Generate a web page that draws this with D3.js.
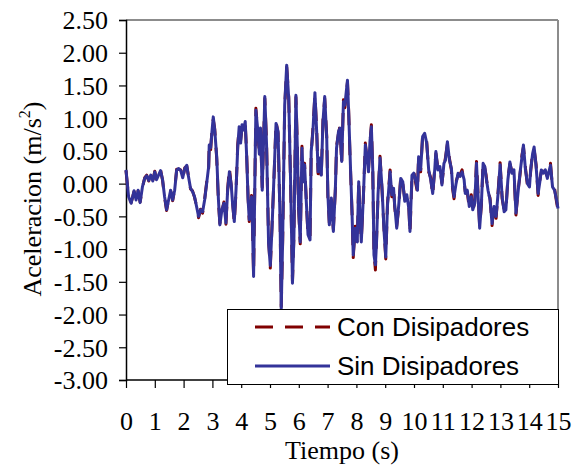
<!DOCTYPE html>
<html>
<head>
<meta charset="utf-8">
<script src="https://cdn.jsdelivr.net/npm/d3@7/dist/d3.min.js"></script>
<style>
  html, body { margin: 0; padding: 0; background: #ffffff; }
  svg { display: block; }
</style>
</head>
<body>
<svg id="chart" width="581" height="469"></svg>
<script>
// ---- data ----
const time = [
  0.00,0.09,0.18,0.28,0.35,0.42,0.49,0.57,0.65,0.72,
  0.79,0.86,0.93,1.00,1.06,1.13,1.20,1.27,1.34,1.41,
  1.48,1.55,1.62,1.69,1.76,1.83,1.90,1.97,2.04,2.11,
  2.15,2.24,2.31,2.38,2.45,2.52,2.59,2.66,2.73,2.80,
  2.87,2.89,2.94,2.99,3.03,3.08,3.15,3.21,3.26,3.33,
  3.40,3.47,3.53,3.59,3.65,3.70,3.76,3.82,3.88,3.93,
  3.98,4.03,4.08,4.14,4.19,4.24,4.28,4.36,4.39,4.43,
  4.47,4.51,4.58,4.63,4.67,4.73,4.82,4.88,4.95,5.01,
  5.07,5.14,5.21,5.28,5.35,5.39,5.44,5.51,5.58,5.65,
  5.72,5.78,5.83,5.90,5.95,5.99,6.05,6.11,6.16,6.20,
  6.26,6.32,6.39,6.43,6.49,6.56,6.62,6.67,6.72,6.78,
  6.84,6.90,6.97,7.01,7.06,7.13,7.20,7.27,7.31,7.38,
  7.43,7.49,7.55,7.60,7.69,7.73,7.78,7.85,7.89,7.96,
  8.03,8.08,8.12,8.17,8.24,8.31,8.36,8.42,8.47,8.52,
  8.57,8.61,8.66,8.70,8.75,8.82,8.89,8.96,9.02,9.08,
  9.17,9.23,9.29,9.33,9.40,9.47,9.54,9.61,9.68,9.75,
  9.82,9.86,9.93,9.99,10.05,10.12,10.16,10.23,10.30,10.37,
  10.44,10.51,10.58,10.65,10.72,10.76,10.83,10.90,10.97,11.04,
  11.09,11.16,11.23,11.30,11.34,11.39,11.46,11.53,11.60,11.67,
  11.74,11.78,11.85,11.92,11.99,12.04,12.11,12.17,12.22,12.28,
  12.34,12.40,12.46,12.50,12.57,12.64,12.71,12.78,12.85,12.92,
  12.99,13.06,13.13,13.19,13.26,13.33,13.40,13.47,13.54,13.61,
  13.68,13.75,13.80,13.87,13.94,14.01,14.05,14.12,14.17,14.24,
  14.31,14.38,14.42,14.49,14.56,14.63,14.70,14.74,14.81,14.88,
  14.95,15.00
];
const sinDisipadores = [
  0.21,-0.20,-0.30,-0.11,-0.25,-0.10,-0.29,-0.05,0.08,0.12,
  0.05,0.13,0.04,0.18,0.06,0.13,0.20,0.06,-0.20,-0.40,
  -0.25,-0.10,-0.25,-0.10,0.21,0.23,0.20,0.09,0.23,0.28,
  0.16,-0.07,-0.12,-0.20,-0.35,-0.50,-0.40,-0.43,-0.25,0.00,
  0.26,0.59,0.55,0.82,1.02,0.82,0.41,-0.25,-0.63,-0.40,
  -0.30,-0.60,-0.10,0.18,0.00,-0.30,-0.58,-0.10,0.56,0.87,
  0.62,0.90,0.82,0.95,0.41,-0.25,-0.55,-0.20,-0.60,-1.42,
  -0.10,1.12,0.80,0.45,0.85,-0.10,1.33,0.60,-0.90,-1.25,
  -0.68,0.13,0.92,0.80,-0.58,-1.91,-0.84,1.20,1.81,1.30,
  -0.07,-1.52,-0.84,1.35,0.54,-0.33,-0.89,0.54,0.03,0.29,
  -0.27,-0.78,-0.86,0.49,0.80,1.39,0.80,0.18,0.39,0.13,
  0.95,1.33,0.69,-0.17,-0.63,-0.22,-0.73,-0.07,0.54,0.80,
  0.85,0.34,1.25,1.20,1.58,1.10,0.44,-0.48,-1.09,-0.68,
  -0.89,0.03,-0.43,-0.89,-0.22,0.59,0.44,0.18,0.64,0.87,
  0.18,-1.09,-1.24,-0.89,-0.17,0.39,-0.07,-0.73,-1.12,-0.33,
  0.18,-0.17,-0.07,-0.33,-0.68,-0.33,0.08,0.03,-0.27,-0.17,
  -0.38,-0.73,0.13,0.16,0.06,-0.10,0.41,0.21,0.72,0.77,
  0.62,0.21,0.06,-0.15,0.21,0.49,0.21,0.26,-0.02,0.31,
  0.36,0.64,0.36,0.23,-0.05,-0.20,0.00,0.16,0.11,0.18,
  0.06,-0.15,-0.10,-0.35,-0.20,-0.40,-0.30,0.31,-0.15,-0.68,
  -0.30,0.31,0.26,0.11,-0.10,-0.25,-0.61,-0.35,-0.50,-0.15,
  0.29,-0.20,-0.43,-0.40,0.06,0.33,0.16,0.21,-0.45,-0.15,
  0.16,0.41,0.59,0.21,0.00,-0.05,0.21,0.46,0.56,0.26,
  -0.15,0.06,0.21,0.16,0.21,0.08,0.21,0.28,-0.05,-0.10,
  -0.25,-0.38
];
const conDisipadores = [
  0.20,-0.21,-0.29,-0.12,-0.24,-0.11,-0.28,-0.06,0.09,0.13,
  0.04,0.14,0.05,0.19,0.05,0.14,0.21,0.05,-0.21,-0.41,
  -0.24,-0.11,-0.26,-0.09,0.22,0.22,0.21,0.08,0.24,0.27,
  0.17,-0.08,-0.11,-0.21,-0.34,-0.52,-0.39,-0.45,-0.24,0.02,
  0.24,0.61,0.52,0.85,0.98,0.84,0.38,-0.28,-0.61,-0.42,
  -0.28,-0.62,-0.08,0.24,-0.02,-0.28,-0.60,-0.12,0.60,0.84,
  0.66,0.86,0.85,0.92,0.45,-0.22,-0.58,-0.18,-0.63,-1.39,
  -0.14,1.15,0.77,0.48,0.82,-0.06,1.30,0.64,-0.86,-1.29,
  -0.64,0.10,0.95,0.77,-0.55,-1.88,-0.88,1.17,1.78,1.33,
  -0.11,-1.49,-0.80,1.32,0.58,-0.36,-0.92,0.57,0.00,0.31,
  -0.24,-0.81,-0.83,0.46,0.84,1.36,0.84,0.15,0.42,0.10,
  0.98,1.30,0.72,-0.20,-0.60,-0.25,-0.70,-0.10,0.57,0.77,
  0.88,0.30,1.28,1.16,1.55,1.13,0.40,-0.45,-1.13,-0.65,
  -0.92,0.06,-0.46,-0.86,-0.25,0.62,0.41,0.21,0.61,0.90,
  0.15,-1.06,-1.32,-0.85,-0.20,0.42,-0.10,-0.70,-1.15,-0.30,
  0.21,-0.20,-0.04,-0.36,-0.65,-0.36,0.11,0.00,-0.24,-0.20,
  -0.35,-0.76,0.10,0.19,0.03,-0.13,0.44,0.18,0.75,0.74,
  0.65,0.18,0.09,-0.18,0.24,0.46,0.24,0.23,0.01,0.28,
  0.39,0.61,0.39,0.20,-0.08,-0.23,0.03,0.13,0.14,0.21,
  0.03,-0.12,-0.13,-0.38,-0.17,-0.43,-0.27,0.34,-0.12,-0.65,
  -0.33,0.34,0.23,0.14,-0.13,-0.22,-0.64,-0.32,-0.53,-0.12,
  0.32,-0.23,-0.40,-0.43,0.09,0.30,0.19,0.18,-0.48,-0.12,
  0.13,0.44,0.56,0.24,-0.03,-0.02,0.18,0.49,0.53,0.29,
  -0.18,0.09,0.18,0.19,0.18,0.11,0.18,0.31,-0.08,-0.07,
  -0.28,-0.40
];
const xTicks = [0,1,2,3,4,5,6,7,8,9,10,11,12,13,14,15];
const yTicks = [2.5,2.0,1.5,1.0,0.5,0.0,-0.5,-1.0,-1.5,-2.0,-2.5,-3.0];
const yTickLabels = ["2.50","2.00","1.50","1.00","0.50","0.00","-0.50","-1.00","-1.50","-2.00","-2.50","-3.00"];
const seriesNames = ["Con Disipadores","Sin Disipadores"];
const xTitle = "Tiempo (s)";

// ---- layout ----
const svg = d3.select("#chart");
const L = 126, R = 558, T = 20, B = 380;
const x = d3.scaleLinear().domain([0, 15]).range([L, R]);
const y = d3.scaleLinear().domain([-3, 2.5]).range([B, T]);
const serif = "'Liberation Serif','Times New Roman',serif";
const sans = "'Liberation Sans',Arial,sans-serif";

// plot frame (top/right grey)
svg.append("line").attr("x1", L).attr("x2", R).attr("y1", T).attr("y2", T)
  .attr("stroke", "#8c8c8c").attr("stroke-width", 2);
svg.append("line").attr("x1", R).attr("x2", R).attr("y1", T).attr("y2", B)
  .attr("stroke", "#8c8c8c").attr("stroke-width", 2);

// axes
const yAxis = d3.axisLeft(y).tickValues(yTicks).tickSize(7)
  .tickFormat((d, i) => yTickLabels[i]);
const gy = svg.append("g").attr("transform", `translate(${L},0)`).call(yAxis);
gy.select(".domain").attr("stroke", "#000").attr("stroke-width", 1.5);
gy.selectAll(".tick line").attr("stroke", "#000").attr("stroke-width", 1.2);
gy.selectAll(".tick text").attr("font-family", serif).attr("font-size", 26)
  .attr("fill", "#000").attr("x", -18).attr("dy", "0.34em");

const xAxis = d3.axisBottom(x).tickValues(xTicks).tickSize(8).tickFormat(d3.format("d"));
const gx = svg.append("g").attr("transform", `translate(0,${B})`).call(xAxis);
gx.select(".domain").attr("stroke", "#000").attr("stroke-width", 1.5);
gx.selectAll(".tick line").attr("stroke", "#000").attr("stroke-width", 1.2);
gx.selectAll(".tick text").attr("font-family", serif).attr("font-size", 26)
  .attr("fill", "#000").attr("y", 49.5).attr("dy", null);
gx.selectAll(".domain").attr("d", `M${L},0H${R}`);

// titles
svg.append("text").attr("x", (L + R) / 2).attr("y", 459).attr("text-anchor", "middle")
  .attr("font-family", serif).attr("font-size", 26).attr("fill", "#000").text(xTitle);
const yt = svg.append("text").attr("transform", "translate(41,199) rotate(-90)")
  .attr("text-anchor", "middle").attr("font-family", serif).attr("font-size", 26).attr("fill", "#000");
yt.append("tspan").text("Aceleracion (m/s");
yt.append("tspan").attr("font-size", 16).attr("dy", -11).text("2");
yt.append("tspan").attr("dy", 11).text(")");

// lines
const n = Math.min(time.length, sinDisipadores.length, conDisipadores.length);
const idx = d3.range(n);
const conLine = d3.line().x(i => x(time[i])).y(i => y(conDisipadores[i]));
const sinLine = d3.line().x(i => x(time[i])).y(i => y(sinDisipadores[i]));
svg.append("path").attr("d", conLine(idx)).attr("fill", "none")
  .attr("stroke", "#800000").attr("stroke-width", 3).attr("stroke-dasharray", "18,12")
  .attr("stroke-linejoin", "round");
svg.append("path").attr("d", sinLine(idx)).attr("fill", "none")
  .attr("stroke", "#333399").attr("stroke-width", 3).attr("stroke-linejoin", "round");

// legend
const lg = svg.append("g");
lg.append("rect").attr("x", 227.5).attr("y", 309.5).attr("width", 331).attr("height", 75)
  .attr("fill", "#fff").attr("stroke", "#000").attr("stroke-width", 1);
const legendColors = ["#800000", "#333399"];
const legendDash = ["18,12", null];
seriesNames.forEach((name, i) => {
  const ly = 327 + i * 39;
  lg.append("line").attr("x1", 255).attr("x2", 330).attr("y1", ly).attr("y2", ly)
    .attr("stroke", legendColors[i]).attr("stroke-width", 3)
    .attr("stroke-dasharray", legendDash[i]);
  lg.append("text").attr("x", 337).attr("y", ly + 9).attr("font-family", sans)
    .attr("font-size", 26).attr("fill", "#000").text(name);
});
</script>
</body>
</html>
